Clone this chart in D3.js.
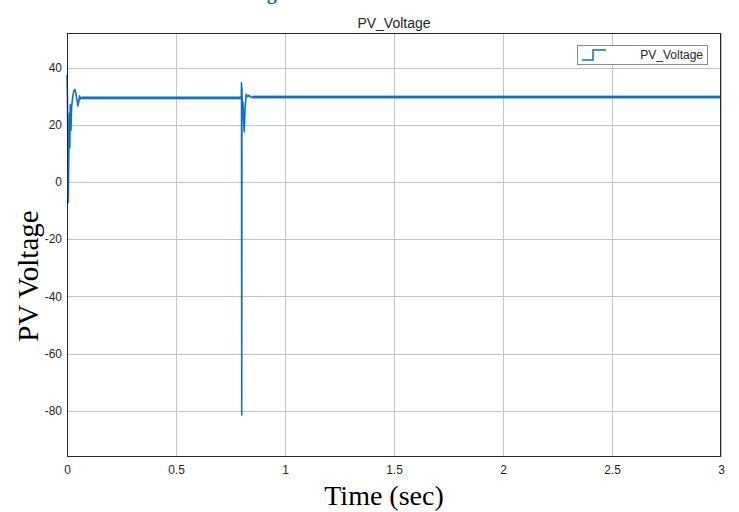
<html>
<head>
  <meta charset="UTF-8">
  <title>PV_Voltage</title>
  <script src="https://cdn.jsdelivr.net/npm/d3@7"></script>
  <style>
    body { margin: 0; background: #fff; }
    text { font-family: "Liberation Sans", Arial, sans-serif; fill: #262626; }
    .serif { font-family: "Liberation Serif", "Times New Roman", serif; fill: #000; }
  </style>
</head>
<body>
<svg id="chart" width="739" height="512"></svg>
<script>
// ---- data ----
var time = [0, 0.002, 0.004, 0.006, 0.009, 0.011, 0.013, 0.015, 0.018, 0.021, 0.025, 0.030, 0.036,
  0.041, 0.046, 0.050, 0.054, 0.058, 0.063, 0.068, 0.075, 0.79, 0.7995, 0.8005, 0.8015, 0.8025,
  0.8045, 0.807, 0.810, 0.813, 0.817, 0.822, 0.828, 0.835, 0.845, 0.86, 3.0];
var voltage = [37.4, 30, 8, -7.2, 15, 24, 12, 27, 18, 26, 29, 31.5, 32.4,
  31, 28.5, 26.6, 28, 30.1, 29, 29.6, 29.4, 29.4, 29.5, 34.7, -81.5, 33,
  24, 28, 22, 17.6, 26, 30.7, 29.8, 30.3, 29.6, 29.8, 29.8];
// switching ripple band around the steady value
var bandStart = [0.07, 0.85];
var bandEnd = [0.8, 3.0];
var bandLo = [28.9, 29.2];
var bandHi = [29.9, 30.2];

var xTicks = [0, 0.5, 1, 1.5, 2, 2.5, 3];
var yTicks = [-80, -60, -40, -20, 0, 20, 40];

var lineColor = "#0b72c4";

//-----------------------------------------
var svg = d3.select("#chart");
var m = { left: 67, right: 18, top: 33, bottom: 55 };
var W = 739, H = 512;

var x = d3.scaleLinear().domain([0, 3]).range([m.left, W - m.right]);
var y = d3.scaleLinear().domain([-96.2, 52.1]).range([H - m.bottom, m.top]);

// cut off heading above the chart
svg.append("text")
  .attr("class", "serif")
  .attr("x", 191).attr("y", -1)
  .style("font-size", "20px").style("font-weight", "bold").style("fill", "#0070c0")
  .text("PV Voltage");

// grid
svg.append("g").selectAll("line").data(xTicks).enter().append("line")
  .attr("x1", function (d) { return Math.round(x(d)) + 0.5; })
  .attr("x2", function (d) { return Math.round(x(d)) + 0.5; })
  .attr("y1", m.top).attr("y2", H - m.bottom)
  .attr("stroke", "#c4c4c4");
svg.append("g").selectAll("line").data(yTicks).enter().append("line")
  .attr("y1", function (d) { return Math.round(y(d)) + 0.5; })
  .attr("y2", function (d) { return Math.round(y(d)) + 0.5; })
  .attr("x1", m.left).attr("x2", W - m.right)
  .attr("stroke", "#c4c4c4");

// ripple band
svg.append("g").selectAll("rect").data(bandStart).enter().append("rect")
  .attr("x", function (d) { return x(d); })
  .attr("width", function (d, i) { return x(bandEnd[i]) - x(d); })
  .attr("y", function (d, i) { return y(bandHi[i]); })
  .attr("height", function (d, i) { return y(bandLo[i]) - y(bandHi[i]); })
  .attr("fill", lineColor);

// signal
var pts = time.map(function (t, i) { return [t, voltage[i]]; });
svg.append("path")
  .datum(pts)
  .attr("fill", "none")
  .attr("stroke", lineColor)
  .attr("stroke-width", 1.6)
  .attr("stroke-linejoin", "round")
  .attr("d", d3.line().x(function (d) { return x(d[0]); }).y(function (d) { return y(d[1]); }));

// axes box
svg.append("rect")
  .attr("x", m.left + 0.5).attr("y", m.top + 0.5)
  .attr("width", W - m.left - m.right - 1).attr("height", H - m.top - m.bottom - 1)
  .attr("fill", "none").attr("stroke", "#262626");

// tick labels
var xAxis = d3.axisBottom(x).tickValues(xTicks).tickSize(0).tickPadding(8)
  .tickFormat(function (d) { return String(d); });
var gx = svg.append("g").attr("transform", "translate(0," + (H - m.bottom) + ")").call(xAxis);
gx.select(".domain").remove();
gx.selectAll("text").style("font-size", "12px").style("font-family", null).attr("fill", null);

var yAxis = d3.axisLeft(y).tickValues(yTicks).tickSize(0).tickPadding(5)
  .tickFormat(function (d) { return String(d); });
var gy = svg.append("g").attr("transform", "translate(" + m.left + ",0)").call(yAxis);
gy.select(".domain").remove();
gy.selectAll("text").style("font-size", "12px").style("font-family", null).attr("fill", null);

// title
svg.append("text")
  .attr("x", (m.left + W - m.right) / 2).attr("y", 28)
  .attr("text-anchor", "middle").style("font-size", "14px")
  .text("PV_Voltage");

// axis labels
svg.append("text")
  .attr("class", "serif")
  .attr("x", 384).attr("y", 505)
  .attr("text-anchor", "middle").style("font-size", "28px")
  .text("Time (sec)");
svg.append("text")
  .attr("class", "serif")
  .attr("transform", "translate(38,276) rotate(-90)")
  .attr("text-anchor", "middle").style("font-size", "29px")
  .text("PV Voltage");

// legend
var lg = svg.append("g");
lg.append("rect").attr("x", 577.5).attr("y", 45.5).attr("width", 130).attr("height", 19)
  .attr("fill", "#fff").attr("stroke", "#8c8c8c");
lg.append("path").attr("d", "M582,60H593V50H606")
  .attr("fill", "none").attr("stroke", lineColor).attr("stroke-width", 1.5);
lg.append("text").attr("x", 703).attr("y", 59)
  .attr("text-anchor", "end").style("font-size", "12px")
  .text("PV_Voltage");
</script>
</body>
</html>
